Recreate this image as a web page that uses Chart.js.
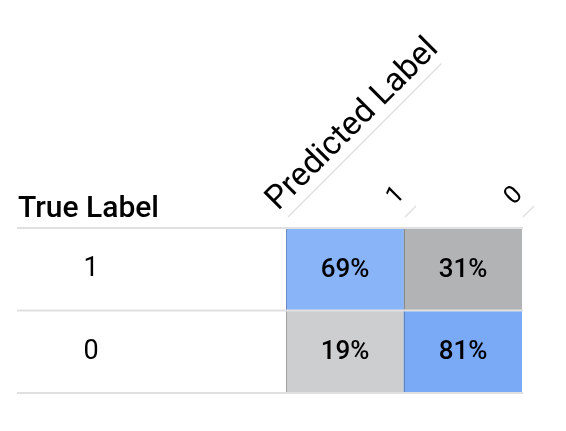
<!DOCTYPE html>
<html>
<head>
<meta charset="utf-8">
<script src="https://cdn.jsdelivr.net/npm/chart.js@4"></script>
<style>
  html, body { margin: 0; padding: 0; background: #ffffff; }
  #wrap { width: 566px; height: 431px; position: relative; }
</style>
</head>
<body>
<div id="wrap"><canvas id="c" width="566" height="431"></canvas></div>
<script>
// ---- data ----
const predictedLabels = ['1', '0'];          // columns
const trueLabels = ['1', '0'];               // rows (top to bottom)
const rowTrue1 = [69, 31];                   // % for true label 1
const rowTrue0 = [19, 81];                   // % for true label 0
const rowTitle = 'True Label';
const colTitle = 'Predicted Label';

// ---- styles ----
const colorsTrue1 = ['#8ab4f8', '#b2b3b5'];
const colorsTrue0 = ['#cdced0', '#7aa9f6'];

const rows = [rowTrue1, rowTrue0];
const rowColors = [colorsTrue1, colorsTrue0];
const nRows = trueLabels.length;

const datasets = rows.map((vals, i) => ({
  label: 'True ' + trueLabels[i],
  data: vals.map(() => [nRows - 1 - i, nRows - i]),
  pct: vals,
  backgroundColor: rowColors[i],
  borderWidth: 0,
  barPercentage: 1,
  categoryPercentage: 1,
  grouped: false
}));

const FONT = 'Roboto, "Liberation Sans", sans-serif';

const tablePlugin = {
  id: 'tablePlugin',
  afterDatasetsDraw(chart) {
    const ctx = chart.ctx;
    const ca = chart.chartArea;
    const ys = chart.scales.y;
    ctx.save();

    // vertical cell separators
    ctx.strokeStyle = 'rgba(0,0,0,0.22)';
    ctx.lineWidth = 1;
    const colEdges = [];
    const meta0 = chart.getDatasetMeta(0);
    meta0.data.forEach((bar, j) => {
      const half = bar.width / 2;
      colEdges.push(bar.x - half);
      if (j === meta0.data.length - 1) colEdges.push(bar.x + half);
    });
    colEdges.slice(0, -1).forEach(x => {
      ctx.beginPath();
      ctx.moveTo(Math.round(x) + 0.5, ca.top);
      ctx.lineTo(Math.round(x) + 0.5, ca.bottom);
      ctx.stroke();
    });

    // horizontal row lines
    ctx.strokeStyle = '#e0e0e0';
    ctx.lineWidth = 2;
    for (let v = 0; v <= nRows; v++) {
      const y = ys.getPixelForValue(v);
      ctx.beginPath();
      ctx.moveTo(17, y);
      ctx.lineTo(ca.right + 1, y);
      ctx.stroke();
    }

    // percentages
    ctx.fillStyle = '#000';
    ctx.font = '500 26px ' + FONT;
    ctx.textAlign = 'center';
    ctx.textBaseline = 'middle';
    chart.data.datasets.forEach((ds, i) => {
      chart.getDatasetMeta(i).data.forEach((bar, j) => {
        const cy = (bar.y + bar.base) / 2;
        ctx.fillText(ds.pct[j] + '%', bar.x, cy + 1);
      });
    });

    // row labels
    ctx.font = '27px ' + FONT;
    trueLabels.forEach((lab, i) => {
      const cy = ys.getPixelForValue(nRows - i - 0.5);
      ctx.fillText(lab, 91, cy);
    });

    // row title
    ctx.font = '500 30px ' + FONT;
    ctx.textAlign = 'left';
    ctx.textBaseline = 'alphabetic';
    ctx.fillText(rowTitle, 18, 217);

    // rotated column labels with short diagonal rules
    const ang = -Math.PI / 4;
    predictedLabels.forEach((lab, j) => {
      const right = colEdges[j + 1];
      ctx.strokeStyle = '#e0e0e0';
      ctx.lineWidth = 1.5;
      ctx.beginPath();
      ctx.moveTo(right + 1, ca.top - 11);
      ctx.lineTo(right + 12, ca.top - 22);
      ctx.stroke();
      ctx.save();
      ctx.translate(right - 8, ca.top - 32);
      ctx.rotate(ang);
      ctx.font = '25px ' + FONT;
      ctx.textAlign = 'center';
      ctx.textBaseline = 'middle';
      ctx.fillStyle = '#000';
      ctx.fillText(lab, 0, 0);
      ctx.restore();
    });

    // rotated axis title with long diagonal rule
    const ox = colEdges[0] + 2, oy = ca.top - 11;
    ctx.save();
    ctx.translate(ox, oy);
    ctx.rotate(ang);
    ctx.strokeStyle = '#e0e0e0';
    ctx.lineWidth = 1.5;
    ctx.beginPath();
    ctx.moveTo(0, 0);
    ctx.lineTo(217, 0);
    ctx.stroke();
    ctx.font = '33px ' + FONT;
    ctx.textAlign = 'left';
    ctx.textBaseline = 'alphabetic';
    ctx.fillStyle = '#000';
    ctx.fillText(colTitle, -3, -11);
    ctx.restore();

    ctx.restore();
  }
};

new Chart(document.getElementById('c'), {
  type: 'bar',
  data: { labels: predictedLabels, datasets },
  options: {
    responsive: false,
    animation: false,
    indexAxis: 'x',
    layout: { padding: { left: 286, right: 44, top: 228, bottom: 38 } },
    plugins: { legend: { display: false }, tooltip: { enabled: false }, title: { display: false } },
    scales: {
      x: { type: 'category', display: false, offset: true, grid: { display: false } },
      y: { type: 'linear', display: false, min: 0, max: nRows, grid: { display: false } }
    }
  },
  plugins: [tablePlugin]
});
</script>
</body>
</html>
